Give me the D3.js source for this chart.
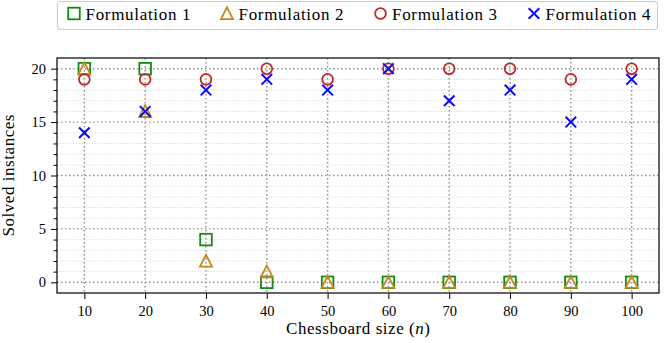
<!DOCTYPE html>
<html>
<head>
<meta charset="utf-8">
<script src="https://cdn.jsdelivr.net/npm/d3@7"></script>
<style>
  body { margin: 0; background: #fff; }
</style>
</head>
<body>
<svg id="chart" width="665" height="343"></svg>
<script>
const sizes = [10, 20, 30, 40, 50, 60, 70, 80, 90, 100];
const form1 = [20, 20, 4, 0, 0, 0, 0, 0, 0, 0];
const form2 = [20, 16, 2, 1, 0, 0, 0, 0, 0, 0];
const form3 = [19, 19, 19, 20, 19, 20, 20, 20, 19, 20];
const form4 = [14, 16, 18, 19, 18, 20, 17, 18, 15, 19];
const seriesNames = ["Formulation 1", "Formulation 2", "Formulation 3", "Formulation 4"];
const yTicks = [0, 5, 10, 15, 20];
const yMinorTicks = d3.range(0, 21).filter(v => v % 5 !== 0);

const FONT = "'Liberation Serif', 'Times New Roman', serif";

const series = [
  {name: seriesNames[0], vals: form1, color: "#128c12", shape: "square"},
  {name: seriesNames[1], vals: form2, color: "#c28a1c", shape: "triangle"},
  {name: seriesNames[2], vals: form3, color: "#c02a2a", shape: "circle"},
  {name: seriesNames[3], vals: form4, color: "#0a0aff", shape: "cross"}
];

const svg = d3.select("#chart");
const m = {left: 57, right: 659, top: 58, bottom: 293};

const gx = d3.scaleLinear().domain([5.5, 104.5]).range([m.left, m.right]);
const gy = d3.scaleLinear().domain([-1, 21]).range([m.bottom, m.top]);

// grid
const grid = svg.append("g");
grid.selectAll(".minor").data(yMinorTicks)
  .enter().append("line")
  .attr("x1", m.left).attr("x2", m.right)
  .attr("y1", d => gy(d)).attr("y2", d => gy(d))
  .attr("stroke", "#c4c4c4").attr("stroke-width", 0.9).attr("stroke-dasharray", "1,2.2");
grid.selectAll(".majy").data(yTicks).enter().append("line")
  .attr("x1", m.left).attr("x2", m.right)
  .attr("y1", d => gy(d)).attr("y2", d => gy(d))
  .attr("stroke", "#8c8c8c").attr("stroke-width", 1.4).attr("stroke-dasharray", "1.4,2.6");
grid.selectAll(".majx").data(sizes).enter().append("line")
  .attr("y1", m.top).attr("y2", m.bottom)
  .attr("x1", d => gx(d)).attr("x2", d => gx(d))
  .attr("stroke", "#8c8c8c").attr("stroke-width", 1.4).attr("stroke-dasharray", "1.4,2.6");

// axes
const xAxis = d3.axisBottom(gx).tickValues(sizes).tickSize(6).tickPadding(7);
const yAxis = d3.axisLeft(gy).tickValues(yTicks).tickSize(6).tickPadding(5);
const yMinor = d3.axisLeft(gy).tickValues(yMinorTicks).tickSize(3.5).tickFormat("");

const gxA = svg.append("g").attr("transform", `translate(0,${m.bottom})`).call(xAxis);
const gyA = svg.append("g").attr("transform", `translate(${m.left},0)`).call(yAxis);
const gyM = svg.append("g").attr("transform", `translate(${m.left},0)`).call(yMinor);
[gxA, gyA, gyM].forEach(g => {
  g.attr("font-family", null);
  g.select(".domain").remove();
  g.selectAll("line").attr("stroke", "#000").attr("stroke-width", 1);
  g.selectAll("text").style("font-family", FONT).style("font-size", "14.5px").attr("fill", "#000");
});

svg.append("rect").attr("x", m.left).attr("y", m.top)
  .attr("width", m.right - m.left).attr("height", m.bottom - m.top)
  .attr("fill", "none").attr("stroke", "#000").attr("stroke-width", 1.2);

// markers
function drawMarker(g, shape, color) {
  if (shape === "square") {
    g.append("rect").attr("x", -5.8).attr("y", -5.8).attr("width", 11.6).attr("height", 11.6)
      .attr("fill", "none").attr("stroke", color).attr("stroke-width", 1.8);
  } else if (shape === "triangle") {
    g.append("path").attr("d", "M0,-6.2L6,5.6L-6,5.6Z")
      .attr("fill", "none").attr("stroke", color).attr("stroke-width", 1.8)
      .attr("stroke-linejoin", "miter");
  } else if (shape === "circle") {
    g.append("circle").attr("r", 5.4)
      .attr("fill", "none").attr("stroke", color).attr("stroke-width", 1.8);
  } else {
    g.append("path").attr("d", "M-5.3,-5.3L5.3,5.3M-5.3,5.3L5.3,-5.3")
      .attr("fill", "none").attr("stroke", color).attr("stroke-width", 2);
  }
}

series.forEach(s => {
  const g = svg.append("g");
  sizes.forEach((n, i) => {
    const p = g.append("g").attr("transform", `translate(${gx(n)},${gy(s.vals[i])})`);
    drawMarker(p, s.shape, s.color);
  });
});

// axis labels
svg.append("text").attr("x", (m.left + m.right) / 2).attr("y", 334)
  .attr("text-anchor", "middle").style("font-family", FONT).style("font-size", "17px")
  .attr("textLength", 144).attr("lengthAdjust", "spacing")
  .html('Chessboard size (<tspan font-style="italic">n</tspan>)');
svg.append("text").attr("transform", `translate(14,${(m.top + m.bottom) / 2}) rotate(-90)`)
  .attr("text-anchor", "middle").style("font-family", FONT).style("font-size", "17px")
  .attr("textLength", 122).attr("lengthAdjust", "spacing")
  .text("Solved instances");

// legend
const leg = svg.append("g");
leg.append("rect").attr("x", 57.5).attr("y", 1.5).attr("width", 600).attr("height", 28).attr("rx", 3)
  .attr("fill", "#fff").attr("stroke", "#cfcfcf").attr("stroke-width", 1.2);
const legX = [74, 227, 380.5, 534];
series.forEach((s, i) => {
  const p = leg.append("g").attr("transform", `translate(${legX[i]},13.5)`);
  drawMarker(p, s.shape, s.color);
  leg.append("text").attr("x", legX[i] + 11.5).attr("y", 19.5)
    .style("font-family", FONT).style("font-size", "17px")
    .attr("textLength", 105).attr("lengthAdjust", "spacing")
    .text(s.name);
});
</script>
</body>
</html>
